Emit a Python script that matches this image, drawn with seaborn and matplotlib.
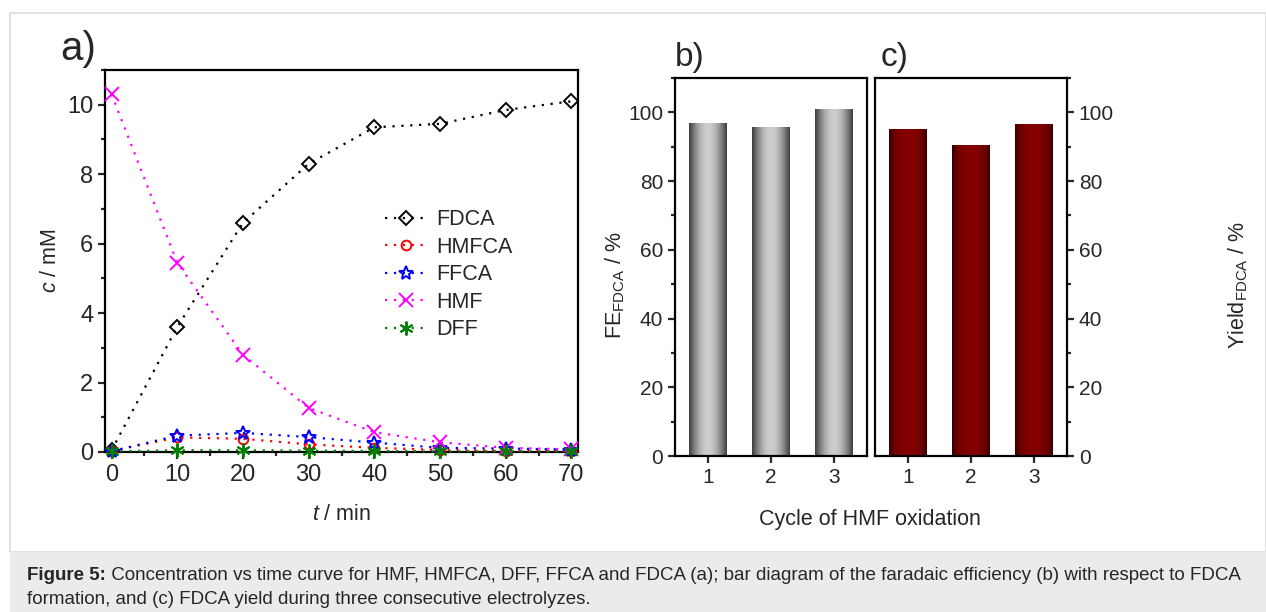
import numpy as np
import matplotlib
matplotlib.use('Agg')
import matplotlib.pyplot as plt
import seaborn as sns
from matplotlib.patches import Rectangle
from matplotlib.lines import Line2D
from matplotlib.colors import LinearSegmentedColormap
from matplotlib.ticker import MultipleLocator

# ---------------- data ----------------
t_min = [0, 10, 20, 30, 40, 50, 60, 70]
fdca = [0.05, 3.6, 6.6, 8.3, 9.35, 9.45, 9.85, 10.1]
hmfca = [0.03, 0.42, 0.38, 0.22, 0.12, 0.06, 0.04, 0.03]
ffca = [0.02, 0.47, 0.55, 0.43, 0.27, 0.12, 0.10, 0.07]
hmf = [10.3, 5.45, 2.8, 1.27, 0.57, 0.28, 0.12, 0.08]
dff = [0.02, 0.05, 0.05, 0.04, 0.03, 0.02, 0.02, 0.02]

cycles = ['1', '2', '3']
fe_fdca = [96.8, 95.5, 100.8]
yield_fdca = [95.0, 90.4, 96.4]

caption_bold = 'Figure 5:'
caption_line1 = (' Concentration vs time curve for HMF, HMFCA, DFF, FFCA and FDCA (a); '
                 'bar diagram of the faradaic efficiency (b) with respect to FDCA')
caption_line2 = 'formation, and (c) FDCA yield during three consecutive electrolyzes.'

# ---------------- style ----------------
sns.set_theme(style='ticks')
plt.rcParams['font.family'] = ['Liberation Sans', 'DejaVu Sans']
plt.rcParams['mathtext.fontset'] = 'custom'
plt.rcParams['mathtext.rm'] = 'Liberation Sans'
plt.rcParams['mathtext.it'] = 'Liberation Sans:italic'
plt.rcParams['axes.linewidth'] = 1.6
plt.rcParams['axes.edgecolor'] = 'black'

W, H = 1266, 612
fig = plt.figure(figsize=(W / 100, H / 100), dpi=100)
fig.patch.set_facecolor('white')

# page frame and caption band
fig.add_artist(Rectangle((10 / W, (H - 552) / H), (W - 10) / W, (552 - 13) / H,
                         transform=fig.transFigure, facecolor='white',
                         edgecolor='#dcdcdc', lw=1.2, zorder=-10))
fig.add_artist(Rectangle((10 / W, 0), (W - 10) / W, (H - 552) / H,
                         transform=fig.transFigure, facecolor='#ebebeb',
                         edgecolor='none', zorder=-10))


def px_axes(left, top, right, bottom):
    return fig.add_axes([left / W, (H - bottom) / H, (right - left) / W, (bottom - top) / H])


ax_a = px_axes(105, 70, 578, 452)
ax_b = px_axes(675, 78, 867, 456)
ax_c = px_axes(875, 78, 1067, 456)

# ---------------- panel a ----------------
dotted = (0, (1, 3))
series = [
    ('FDCA', fdca, 'black', 'D', 7),
    ('HMFCA', hmfca, 'red', 'o', 7),
    ('FFCA', ffca, 'blue', '*', 10),
    ('HMF', hmf, 'magenta', 'x', 10),
    ('DFF', dff, 'green', (6, 2, 0), 10),
]
handles = []
for name, vals, color, marker, ms in series:
    sns.lineplot(x=t_min, y=vals, ax=ax_a, color=color, marker=marker, markersize=ms,
                 markerfacecolor='none', markeredgecolor=color, markeredgewidth=1.4,
                 linestyle=dotted, linewidth=1.6, clip_on=False, zorder=3)
    handles.append(Line2D([], [], color=color, marker=marker, markersize=ms,
                          markerfacecolor='none', markeredgecolor=color,
                          markeredgewidth=1.4, linestyle=dotted, linewidth=1.6, label=name))

ax_a.set_xlim(-1, 71)
ax_a.set_ylim(0, 11)
ax_a.xaxis.set_major_locator(MultipleLocator(10))
ax_a.xaxis.set_minor_locator(MultipleLocator(5))
ax_a.yaxis.set_major_locator(MultipleLocator(2))
ax_a.yaxis.set_minor_locator(MultipleLocator(1))
ax_a.xaxis.set_ticks_position('bottom')
ax_a.yaxis.set_ticks_position('left')
ax_a.tick_params(which='both', direction='out', width=1.6, labelsize=17)
ax_a.tick_params(which='major', length=5)
ax_a.tick_params(which='minor', length=3)
ax_a.set_xlabel('')
ax_a.set_ylabel('')
ax_a.legend(handles=handles, loc='upper left', bbox_to_anchor=(0.56, 0.675), frameon=False,
            fontsize=15.5, handlelength=2.0, handletextpad=0.4, labelspacing=0.3,
            borderaxespad=0.3)

# ---------------- panels b and c ----------------
gray_cmap = LinearSegmentedColormap.from_list('bar_gray', ['#383838', '#cdcdcd'])
red_cmap = LinearSegmentedColormap.from_list('bar_red', ['#140000', '#850000'])
u = np.linspace(0, 1, 256)

for ax, vals, cmap, power in [(ax_b, fe_fdca, gray_cmap, 0.9), (ax_c, yield_fdca, red_cmap, 0.35)]:
    sns.barplot(x=cycles, y=vals, ax=ax, width=0.6, color='#888888', edgecolor='none',
                saturation=1)
    profile = np.sin(np.pi * u) ** power
    for p in ax.patches:
        x0, w, h = p.get_x(), p.get_width(), p.get_height()
        ax.imshow(profile[np.newaxis, :], cmap=cmap, extent=(x0, x0 + w, 0, h),
                  aspect='auto', interpolation='bicubic', zorder=2)
        p.set_visible(False)
    ax.set_xlim(-0.52, 2.52)
    ax.set_ylim(0, 110)
    ax.yaxis.set_major_locator(MultipleLocator(20))
    ax.yaxis.set_minor_locator(MultipleLocator(10))
    ax.xaxis.set_ticks_position('bottom')
    ax.tick_params(which='both', direction='out', width=1.6, labelsize=15)
    ax.tick_params(which='major', length=5)
    ax.tick_params(which='minor', length=3)
    ax.set_xlabel('')
    ax.set_ylabel('')

ax_b.yaxis.set_ticks_position('left')
ax_c.yaxis.set_ticks_position('right')
ax_c.tick_params(axis='y', labelleft=False, labelright=True)

# ---------------- labels ----------------
fig.text(60 / W, 1 - 60 / H, 'a)', fontsize=29, ha='left', va='baseline')
fig.text(675 / W, 1 - 66 / H, 'b)', fontsize=24, ha='left', va='baseline')
fig.text(881 / W, 1 - 66 / H, 'c)', fontsize=24, ha='left', va='baseline')

fig.text(50 / W, 1 - 261 / H, '$c$ / mM', rotation=90, ha='center', va='center', fontsize=15.5)
fig.text(342 / W, 1 - 514 / H, '$t$ / min', ha='center', va='center', fontsize=15.5)
fig.text(615 / W, 1 - 285 / H, r'FE$_{\mathrm{FDCA}}$ / %', rotation=90,
         ha='center', va='center', fontsize=15.5)
fig.text(1238 / W, 1 - 285 / H, r'Yield$_{\mathrm{FDCA}}$ / %', rotation=90,
         ha='center', va='center', fontsize=15.5)
fig.text(870 / W, 1 - 520 / H, 'Cycle of HMF oxidation', ha='center', va='center', fontsize=15.5)

# ---------------- caption ----------------
renderer = fig.canvas.get_renderer()
bold = fig.text(27 / W, 1 - 576 / H, caption_bold, fontsize=13.5, weight='bold', va='center')
bb = bold.get_window_extent(renderer)
fig.text(bb.x1 / W, 1 - 576 / H, caption_line1, fontsize=13.5, va='center')
fig.text(27 / W, 1 - 600 / H, caption_line2, fontsize=13.5, va='center')

fig.savefig('out.png', dpi=100)
